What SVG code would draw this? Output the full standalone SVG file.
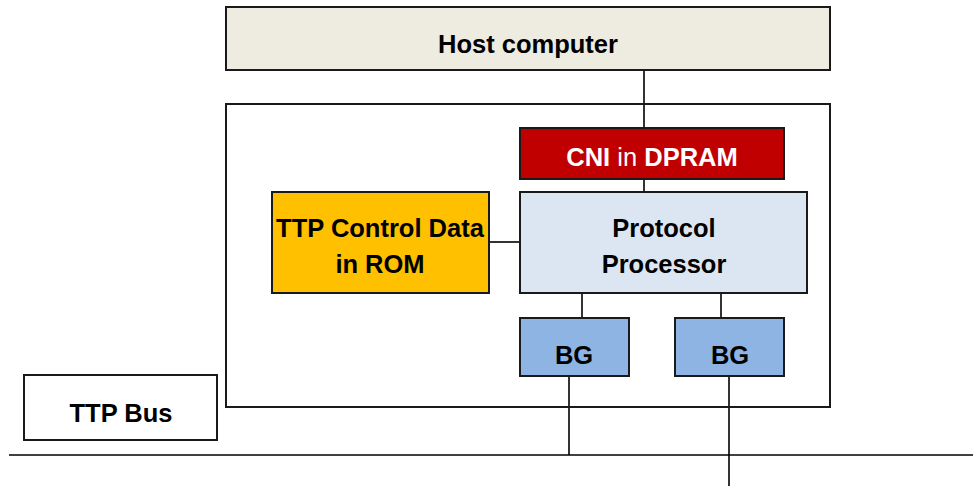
<svg xmlns="http://www.w3.org/2000/svg" width="973" height="486" viewBox="0 0 973 486">
<style>
.box{stroke:#1a1a1a;stroke-width:2}
.ln{stroke:#000;stroke-width:1.6;fill:none}
.t{font-family:"Liberation Sans",Arial,sans-serif;font-weight:bold;font-size:25.5px;text-anchor:middle;fill:#000}
.w{fill:#fff}
</style>
<rect width="973" height="486" fill="#fff"/>
<g id="connectors">
<line class="ln" x1="644" y1="70" x2="644" y2="128"/>
<line class="ln" x1="644" y1="179" x2="644" y2="192"/>
<line class="ln" x1="489" y1="242" x2="520" y2="242"/>
<line class="ln" x1="582" y1="293" x2="582" y2="318"/>
<line class="ln" x1="721" y1="293" x2="721" y2="318"/>
<line class="ln" x1="569" y1="376" x2="569" y2="455"/>
<line class="ln" x1="729" y1="376" x2="729" y2="486"/>
<line class="ln" x1="9" y1="455" x2="973" y2="455"/>
</g>
<g id="host"><rect class="box" x="226" y="7" width="604" height="63" fill="#EEEBE0"/><text class="t" x="528" y="53">Host computer</text></g>
<g id="node"><rect class="box" x="226" y="104" width="604" height="303" fill="none"/></g>
<g id="cni"><rect class="box" x="520" y="128" width="264" height="51" fill="#C00000"/><text class="t w" x="652" y="166">CNI <tspan font-weight="normal">in</tspan> DPRAM</text></g>
<g id="rom"><rect class="box" x="272" y="192" width="217" height="101" fill="#FFC000"/><text class="t" x="380" y="237">TTP Control Data</text><text class="t" x="380" y="273">in ROM</text></g>
<g id="pp"><rect class="box" x="520" y="192" width="287" height="101" fill="#DCE6F2"/><text class="t" x="664" y="237">Protocol</text><text class="t" x="664" y="273">Processor</text></g>
<g id="bg1"><rect class="box" x="520" y="318" width="109" height="58" fill="#8EB4E3"/><text class="t" x="574" y="364">BG</text></g>
<g id="bg2"><rect class="box" x="675" y="318" width="109" height="58" fill="#8EB4E3"/><text class="t" x="730" y="364">BG</text></g>
<g id="bus"><rect class="box" x="24" y="375" width="193" height="65" fill="#fff"/><text class="t" x="121" y="422">TTP Bus</text></g>
</svg>
